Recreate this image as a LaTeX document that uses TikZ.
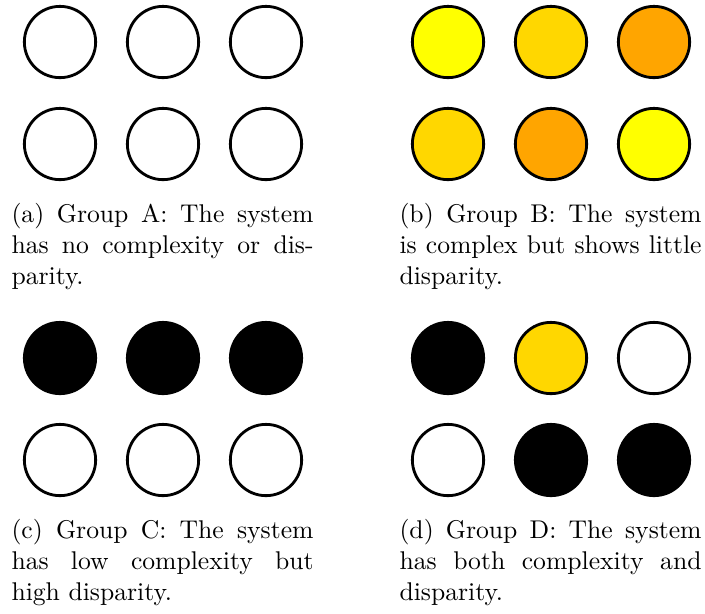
\documentclass[tikz,border=0pt]{standalone}
\usepackage{tikz}
\usetikzlibrary{positioning}
\usepackage{xcolor}

\definecolor{sunyellow}{RGB}{255,255,0}
\definecolor{goldtone}{RGB}{255,215,0}
\definecolor{orangetone}{RGB}{255,165,0}

\begin{document}
\begin{tikzpicture}[
    x=0.39pt, y=-0.39pt,
    dot/.style={draw=black, circle, line width=1.1pt, minimum size=27.8pt, inner sep=0pt},
    caption/.style={anchor=north west, inner sep=0pt, text width=117.8pt, align=justify}
  ]
    \useasboundingbox (0,0) rectangle (705,613);

    \begin{scope}
      % Group A
      \node[dot, fill=white] (a1) at (60, 42) {};
      \node[dot, fill=white] (a2) at (163, 42) {};
      \node[dot, fill=white] (a3) at (266, 42) {};
      \node[dot, fill=white] (a4) at (60, 144) {};
      \node[dot, fill=white] (a5) at (163, 144) {};
      \node[dot, fill=white] (a6) at (266, 144) {};

      \node[caption] (capa) at (11, 203) {(a) Group A: The system has no complexity or disparity.};
    \end{scope}

    \begin{scope}[shift={(388,0)}]
      % Group B
      \node[dot, fill=sunyellow] (b1) at (60, 42) {};
      \node[dot, fill=goldtone] (b2) at (163, 42) {};
      \node[dot, fill=orangetone] (b3) at (266, 42) {};
      \node[dot, fill=goldtone] (b4) at (60, 144) {};
      \node[dot, fill=orangetone] (b5) at (163, 144) {};
      \node[dot, fill=sunyellow] (b6) at (266, 144) {};

      \node[caption] (capb) at (11, 203) {(b) Group B: The system is complex but shows little disparity.};
    \end{scope}

    \begin{scope}[shift={(0,316)}]
      % Group C
      \node[dot, fill=black] (c1) at (60, 42) {};
      \node[dot, fill=black] (c2) at (163, 42) {};
      \node[dot, fill=black] (c3) at (266, 42) {};
      \node[dot, fill=white] (c4) at (60, 144) {};
      \node[dot, fill=white] (c5) at (163, 144) {};
      \node[dot, fill=white] (c6) at (266, 144) {};

      \node[caption] (capc) at (11, 203) {(c) Group C: The system\linebreak has low complexity but\linebreak high disparity.};
    \end{scope}

    \begin{scope}[shift={(388,316)}]
      % Group D
      \node[dot, fill=black] (d1) at (60, 42) {};
      \node[dot, fill=goldtone] (d2) at (163, 42) {};
      \node[dot, fill=white] (d3) at (266, 42) {};
      \node[dot, fill=white] (d4) at (60, 144) {};
      \node[dot, fill=black] (d5) at (163, 144) {};
      \node[dot, fill=black] (d6) at (266, 144) {};

      \node[caption] (capd) at (11, 203) {(d) Group D: The system has both complexity and disparity.};
    \end{scope}
  \end{tikzpicture}
\end{document}
